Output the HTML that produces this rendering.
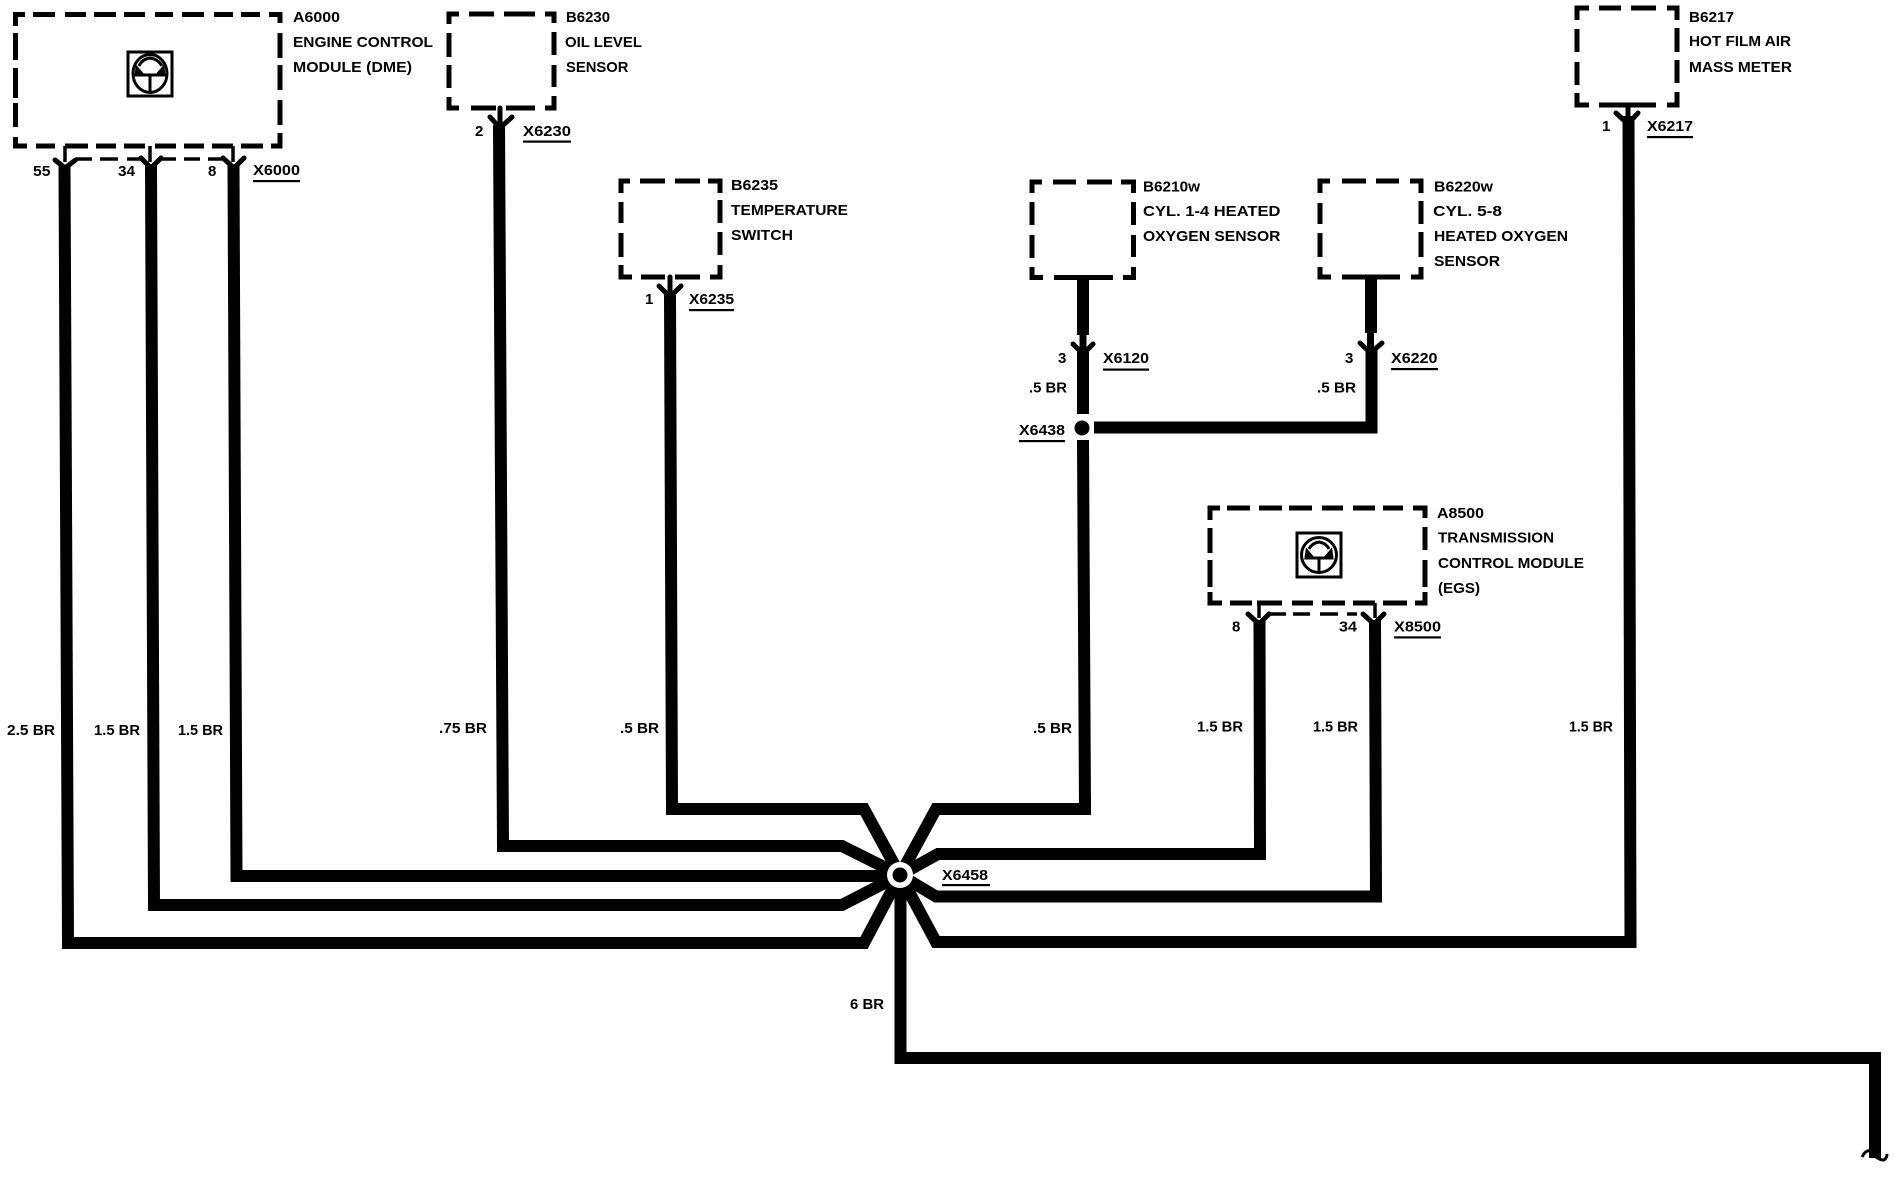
<!DOCTYPE html>
<html><head><meta charset="utf-8"><title>Diagram</title>
<style>
html,body{margin:0;padding:0;background:#fff;width:1894px;height:1184px;overflow:hidden}
svg{display:block}
text{font-family:"Liberation Sans",sans-serif;font-size:15px;font-weight:bold;fill:#000;stroke:none}
.w{fill:none;stroke:#000;stroke-width:12;stroke-linejoin:miter;stroke-linecap:butt}
.s{fill:none;stroke:#000;stroke-width:7}
.d{fill:none;stroke:#000;stroke-width:5;stroke-linejoin:miter}
.t{fill:none;stroke:#000;stroke-width:3.5}
.y{fill:none;stroke:#000;stroke-width:5;stroke-linejoin:round;stroke-linecap:round}
</style></head><body>
<svg width="1894" height="1184" viewBox="0 0 1894 1184" xmlns="http://www.w3.org/2000/svg">
<rect width="1894" height="1184" fill="#fff"/>

<!-- dashed boxes -->
<path class="d" d="M15.5,26V14.5H25M33,14.5H55M65,14.5H86M94,14.5H116M124,14.5H145M155,14.5H173M182,14.5H204M214,14.5H233M241,14.5H260M269,14.5H280V23M15.5,33V60M15.5,68V98M15.5,103V127M15.5,137V146H27M280,33V58M280,65V90M280,100V125M280,133V146H271M36,146H55M65,146H88M96,146H116M124,146H145M155,146H176M184,146H204M212,146H233M241,146H263"/>
<path class="t" d="M76,159H92M100,159H118M127,159H141M161,159H176M184,159H200M208,159H222M65,146V162M150,146V162M233,146V162"/>

<path class="d" d="M449,24V14H459M469,14H494M504,14H535M545,14H554V23M449,33V57M449,65V88M449,97V108H459M554,32V55M554,65V87M554,96V108H545M471,108H496M506,108H535"/>
<path class="d" d="M621,193V181H630M640,181H665M675,181H700M708,181H720V193M621,202V223M621,233V257M621,265V277H632M720,200V223M720,232V255M720,265V277H710M641,277H665M675,277H700"/>
<path class="d" d="M1032,193V182H1042M1053,182H1076M1087,182H1112M1121,182H1133.5V193M1032,202V225M1032,235V258M1032,267V277.5H1043M1133.5,202V225M1133.5,235V257M1133.5,267V277.5H1123M1054,277.5H1113"/>
<path class="d" d="M1320,193V181H1330M1342,181H1366M1376,181H1399M1410,181H1421V193M1320,203V224M1320,233V257M1320,267V277H1331M1421,201V224M1421,232V257M1421,267V277H1411M1342,277H1400"/>
<path class="d" d="M1577,20V8H1589M1599,8H1621M1631,8H1656M1667,8H1677V20M1577,29V52M1577,62V85M1577,93V105H1589M1677,28V52M1677,60V83M1677,92V105H1667M1599,105H1656"/>
<path class="d" d="M1210,520V508H1220M1227,508H1250M1259,508H1282M1289,508H1312M1322,508H1343M1353,508H1375M1383,508H1403M1413,508H1425V518M1210,528V553M1210,560V587M1210,592V603H1222M1425,527V550M1425,560V587M1425,592V603H1415M1230,603H1252M1257,603H1282M1292,603H1313M1322,603H1345M1353,603H1375M1383,603H1407"/>
<path class="t" d="M1270,614H1286M1293,614H1310M1320,614H1338M1347,614H1357M1259,603V618M1375,603V618"/>

<!-- icons -->
<g fill="none" stroke="#000" stroke-width="3">
<rect x="128" y="52" width="44" height="44"/>
<ellipse cx="150" cy="73.5" rx="17" ry="19"/>
<path d="M139,66Q142,59 150,58Q158,59 162,66M137,75H163M150,75V91"/>
<path d="M137,68L143,75H136ZM163,68L157,75H164Z" fill="#000"/>
<rect x="1297" y="533" width="44" height="44"/>
<circle cx="1319" cy="555" r="17.5"/>
<path d="M1309,549Q1312,543 1319,542Q1326,543 1329,549M1307,558H1331M1319,558V572"/>
<path d="M1307,551L1313,558H1306ZM1331,551L1325,558H1332Z" fill="#000"/>
</g>

<!-- wires -->
<path class="w" d="M64.5,165L68,943H864L900,875"/>
<path class="w" d="M151,165L154,905H842L900,875"/>
<path class="w" d="M233.5,165L236.5,876H900"/>
<path class="w" d="M499,125L503,846H842L900,875"/>
<path class="w" d="M670,295L672,809H864L900,875"/>
<path class="w" d="M1083,277V335"/>
<path class="s" d="M1083,335V350"/>
<path class="w" d="M1083,352V414"/>
<path class="w" d="M1083,440L1085,809H936L900,875"/>
<path class="w" d="M1094,427.5H1371.5V350"/>
<path class="w" d="M1371,277V333"/>
<path class="s" d="M1370.5,333V350"/>
<path class="w" d="M1259.5,620L1260,854H938L900,875"/>
<path class="w" d="M1375,620L1376,896.5H936L900,875"/>
<path class="w" d="M1628.5,116L1630.5,942H936L900,875"/>
<path class="w" d="M900.5,875V1058H1875V1158"/>
<path fill="none" stroke="#000" stroke-width="3" d="M1862,1157Q1866,1149 1871,1151Q1877,1160 1884,1160Q1887,1158 1887,1154"/>

<!-- hub + splice -->
<circle cx="900" cy="875" r="13" fill="#fff"/>
<circle cx="900" cy="875" r="7.5" fill="#000"/>
<circle cx="1082" cy="428" r="7.5" fill="#000"/>

<!-- connector Y marks -->
<path class="y" d="M55,160L65,168L75.5,160"/>
<path class="y" d="M141,158L151,168L161,158"/>
<path class="y" d="M223,158L234,168L244,158"/>
<path class="y" d="M490,117L500,128L512,117M500,108V128"/>
<path class="y" d="M659,286L670,297L681,286M670,277V297"/>
<path class="y" d="M1073,344L1083,354L1093,344"/>
<path class="y" d="M1360,343L1370.5,353L1382,343"/>
<path class="y" d="M1616,113L1628,124L1638,113M1628,105V124"/>
<path class="y" d="M1248,614L1259,624L1269,614"/>
<path class="y" d="M1363,614L1374,624L1384,614"/>

<!-- labels -->
<g>
<text x="293" y="22" textLength="47" lengthAdjust="spacingAndGlyphs">A6000</text>
<text x="293" y="47" textLength="140" lengthAdjust="spacingAndGlyphs">ENGINE CONTROL</text>
<text x="293" y="72" textLength="119" lengthAdjust="spacingAndGlyphs">MODULE (DME)</text>
<text x="566" y="22" textLength="44" lengthAdjust="spacingAndGlyphs">B6230</text>
<text x="565" y="47" textLength="77" lengthAdjust="spacingAndGlyphs">OIL LEVEL</text>
<text x="566" y="72" textLength="62.5" lengthAdjust="spacingAndGlyphs">SENSOR</text>
<text x="33" y="176" textLength="17.5" lengthAdjust="spacingAndGlyphs">55</text>
<text x="118" y="176" textLength="17" lengthAdjust="spacingAndGlyphs">34</text>
<text x="208" y="176">8</text>
<text x="253" y="175" textLength="47" lengthAdjust="spacingAndGlyphs">X6000</text>
<text x="475" y="136">2</text>
<text x="523" y="136" textLength="48" lengthAdjust="spacingAndGlyphs">X6230</text>
<text x="731" y="190" textLength="47" lengthAdjust="spacingAndGlyphs">B6235</text>
<text x="731" y="215" textLength="117" lengthAdjust="spacingAndGlyphs">TEMPERATURE</text>
<text x="731" y="240" textLength="62" lengthAdjust="spacingAndGlyphs">SWITCH</text>
<text x="645" y="304">1</text>
<text x="689" y="304" textLength="45" lengthAdjust="spacingAndGlyphs">X6235</text>
<text x="1143" y="191.5" textLength="57" lengthAdjust="spacingAndGlyphs">B6210w</text>
<text x="1143" y="216" textLength="137.5" lengthAdjust="spacingAndGlyphs">CYL. 1-4 HEATED</text>
<text x="1143" y="241" textLength="137.5" lengthAdjust="spacingAndGlyphs">OXYGEN SENSOR</text>
<text x="1058" y="363">3</text>
<text x="1103" y="363" textLength="46" lengthAdjust="spacingAndGlyphs">X6120</text>
<text x="1029" y="392.5" textLength="38" lengthAdjust="spacingAndGlyphs">.5 BR</text>
<text x="1019" y="435" textLength="46" lengthAdjust="spacingAndGlyphs">X6438</text>
<text x="1434" y="191.5" textLength="59" lengthAdjust="spacingAndGlyphs">B6220w</text>
<text x="1433" y="216" textLength="69" lengthAdjust="spacingAndGlyphs">CYL. 5-8</text>
<text x="1434" y="241" textLength="134" lengthAdjust="spacingAndGlyphs">HEATED OXYGEN</text>
<text x="1434" y="266" textLength="66" lengthAdjust="spacingAndGlyphs">SENSOR</text>
<text x="1345" y="363">3</text>
<text x="1391" y="363" textLength="46.5" lengthAdjust="spacingAndGlyphs">X6220</text>
<text x="1317" y="392.5" textLength="39" lengthAdjust="spacingAndGlyphs">.5 BR</text>
<text x="1689" y="22" textLength="45" lengthAdjust="spacingAndGlyphs">B6217</text>
<text x="1689" y="46" textLength="102" lengthAdjust="spacingAndGlyphs">HOT FILM AIR</text>
<text x="1689" y="72" textLength="103" lengthAdjust="spacingAndGlyphs">MASS METER</text>
<text x="1602" y="131">1</text>
<text x="1647" y="131" textLength="46" lengthAdjust="spacingAndGlyphs">X6217</text>
<text x="1437" y="518" textLength="47" lengthAdjust="spacingAndGlyphs">A8500</text>
<text x="1438" y="542.5" textLength="116" lengthAdjust="spacingAndGlyphs">TRANSMISSION</text>
<text x="1438" y="568" textLength="146" lengthAdjust="spacingAndGlyphs">CONTROL MODULE</text>
<text x="1438" y="593" textLength="42" lengthAdjust="spacingAndGlyphs">(EGS)</text>
<text x="1232" y="631.7">8</text>
<text x="1339" y="631.7" textLength="18" lengthAdjust="spacingAndGlyphs">34</text>
<text x="1394" y="631.7" textLength="47" lengthAdjust="spacingAndGlyphs">X8500</text>
<text x="7" y="735" textLength="48" lengthAdjust="spacingAndGlyphs">2.5 BR</text>
<text x="94" y="735" textLength="46" lengthAdjust="spacingAndGlyphs">1.5 BR</text>
<text x="178" y="735" textLength="45" lengthAdjust="spacingAndGlyphs">1.5 BR</text>
<text x="439" y="733" textLength="48" lengthAdjust="spacingAndGlyphs">.75 BR</text>
<text x="620" y="733" textLength="39" lengthAdjust="spacingAndGlyphs">.5 BR</text>
<text x="1033" y="733" textLength="39" lengthAdjust="spacingAndGlyphs">.5 BR</text>
<text x="1197" y="731.7" textLength="46" lengthAdjust="spacingAndGlyphs">1.5 BR</text>
<text x="1313" y="731.7" textLength="45" lengthAdjust="spacingAndGlyphs">1.5 BR</text>
<text x="1569" y="731.7" textLength="44" lengthAdjust="spacingAndGlyphs">1.5 BR</text>
<text x="942" y="880" textLength="46" lengthAdjust="spacingAndGlyphs">X6458</text>
<text x="850" y="1009" textLength="34" lengthAdjust="spacingAndGlyphs">6 BR</text>
</g>

<!-- underlines -->
<g fill="#000">
<rect x="253" y="180" width="47" height="2.2"/>
<rect x="523" y="140.5" width="48" height="2.2"/>
<rect x="689" y="309" width="45" height="2.2"/>
<rect x="1103" y="368.5" width="46" height="2.2"/>
<rect x="1391" y="368" width="47" height="2.2"/>
<rect x="1019" y="440" width="46" height="2.2"/>
<rect x="1647" y="136" width="46" height="2.2"/>
<rect x="1394" y="636.3" width="47" height="2.2"/>
<rect x="942" y="884" width="48" height="2.2"/>
</g>
</svg>
</body></html>
